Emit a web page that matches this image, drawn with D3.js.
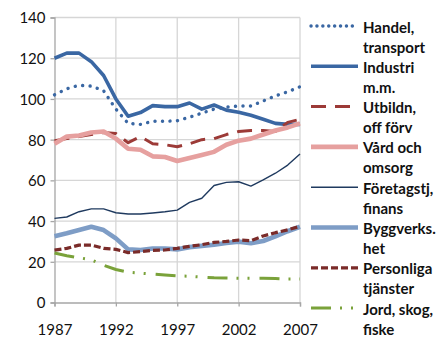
<!DOCTYPE html>
<html>
<head>
<meta charset="utf-8">
<script src="https://cdn.jsdelivr.net/npm/d3@7"></script>
<style>
  html, body { margin: 0; padding: 0; background: #fff; }
  svg { display: block; font-family: Lato, "Open Sans", sans-serif; }
</style>
</head>
<body>
<svg id="chart" width="438" height="337"></svg>
<script>
// Years on the x axis
const years = d3.range(1987, 2008);
const xTicks = [1987, 1992, 1997, 2002, 2007];
const yTicks = [0, 20, 40, 60, 80, 100, 120, 140];

// Index series per sector
const handel = [102, 105, 106.7, 106.3, 104, 95, 88, 87.5, 89, 89, 89.3, 91, 93, 95, 96, 96.5, 96.5, 99, 101.5, 103.5, 106];
const industri = [120, 122.5, 122.5, 118.3, 111.5, 100, 91.5, 93.3, 96.7, 96.2, 96.2, 98, 95, 97, 94.5, 93.5, 92, 90, 88, 87.5, 87.5];
const utbildn = [79.5, 80.5, 81.5, 82.5, 83.5, 83, 78.5, 81.5, 78, 77.5, 76.5, 78, 80, 80.5, 82.5, 84, 84.5, 84.5, 84, 88.5, 90];
const vard = [78, 81.5, 82, 83.5, 84, 80.5, 75.5, 75, 71.8, 71.5, 69.5, 71, 72.5, 74, 77.5, 79.5, 80.5, 82.5, 84.5, 86, 88];
const foretag = [41.3, 42, 44.6, 46, 46, 44.1, 43.5, 43.5, 44, 44.6, 45.4, 49.2, 51.2, 57.5, 59, 59.3, 57.2, 60.2, 63.5, 67.5, 73];
const bygg = [32.6, 34, 35.6, 37.2, 35.6, 31.5, 26.1, 25.8, 26.5, 26.5, 26.1, 27.2, 27.8, 28.4, 29.2, 29.9, 29.1, 30.2, 32.5, 35, 37.2];
const personliga = [25.7, 26.6, 28.2, 28.2, 26.6, 26.1, 24.5, 25, 25.6, 25.8, 26.6, 27.6, 28.4, 29.5, 30, 30.7, 30.4, 32.7, 34.3, 35.7, 37.4];
const jord = [24.3, 23, 22, 21, 18.3, 16.2, 14.9, 14.4, 14, 13.5, 13.1, 12.9, 12.5, 12.1, 12, 11.9, 11.9, 11.9, 11.8, 11.5, 11.5];

// Legend labels (two lines each)
const labels = [
  ["Handel,", "transport"],
  ["Industri", "m.m."],
  ["Utbildn,", "off förv"],
  ["Vård och", "omsorg"],
  ["Företagstj,", "finans"],
  ["Byggverks.", "het"],
  ["Personliga", "tjänster"],
  ["Jord, skog,", "fiske"]
];

const seriesValues = [handel, industri, utbildn, vard, foretag, bygg, personliga, jord];

// Line styles per series
const styles = [
  { color: "#3A67A3", width: 3.4, dash: "0.1 7.4", cap: "round" },
  { color: "#3A67A3", width: 3.6, dash: null, cap: "butt" },
  { color: "#9C3A37", width: 3.0, dash: "15 9", cap: "butt" },
  { color: "#E6A09F", width: 4.6, dash: null, cap: "butt" },
  { color: "#1F3A5F", width: 1.4, dash: null, cap: "butt" },
  { color: "#7E9DC6", width: 4.6, dash: null, cap: "butt" },
  { color: "#7A2B29", width: 3.2, dash: "7 3", cap: "butt" },
  { color: "#7AA23A", width: 3.0, dash: "20 9 2 9 2 10", cap: "butt" }
];

const svg = d3.select("#chart");

const x = d3.scaleLinear().domain([1987, 2007]).range([54.5, 300]);
const y = d3.scaleLinear().domain([0, 140]).range([302.5, 17.5]);

// Gridlines
const grid = svg.append("g");
grid.selectAll("line.h").data(yTicks.filter(d => d > 0)).join("line")
  .attr("x1", x(1987)).attr("x2", x(2007))
  .attr("y1", d => y(d)).attr("y2", d => y(d))
  .attr("stroke", "#D6D6D6").attr("stroke-width", 1.3);
grid.selectAll("line.v").data(xTicks.filter(d => d > 1987)).join("line")
  .attr("x1", d => x(d)).attr("x2", d => x(d))
  .attr("y1", y(0)).attr("y2", y(140))
  .attr("stroke", "#D6D6D6").attr("stroke-width", 1.3);

// Axes
const yAxis = d3.axisLeft(y).tickValues(yTicks).tickSize(4).tickPadding(5);
const xAxis = d3.axisBottom(x).tickValues(xTicks).tickFormat(d3.format("d")).tickSize(4).tickPadding(19);

const gy = svg.append("g").attr("transform", `translate(${x(1987)},0)`).call(yAxis);
const gx = svg.append("g").attr("transform", `translate(0,${y(0)})`).call(xAxis);
[gy, gx].forEach(g => {
  g.select(".domain").attr("stroke", "#A6A6A6").attr("stroke-width", 1.3);
  g.selectAll(".tick line").attr("stroke", "#A6A6A6").attr("stroke-width", 1.3);
  g.selectAll("text").attr("fill", "#111").style("font-size", "15px").style("font-family", "Lato, sans-serif");
});
gy.selectAll("text").attr("dy", "0.36em");
gx.selectAll("text").attr("dy", "0.6em");

// Series lines
const line = d3.line().x((d, i) => x(years[i])).y(d => y(d));
seriesValues.forEach((vals, i) => {
  const s = styles[i];
  svg.append("path")
    .datum(vals)
    .attr("d", line)
    .attr("fill", "none")
    .attr("stroke", s.color)
    .attr("stroke-width", s.width)
    .attr("stroke-linejoin", "round")
    .attr("stroke-linecap", s.cap)
    .attr("stroke-dasharray", s.dash);
});

// Legend
const legend = svg.append("g");
labels.forEach((lab, i) => {
  const s = styles[i];
  const base = 32.5 + i * 40.3;
  legend.append("line")
    .attr("x1", 311).attr("x2", 358)
    .attr("y1", base - 6.5).attr("y2", base - 6.5)
    .attr("stroke", s.color)
    .attr("stroke-width", s.width)
    .attr("stroke-linecap", s.cap)
    .attr("stroke-dasharray", s.dash === "0.1 7.4" ? "0.1 5.8" : s.dash);
  lab.forEach((t, j) => {
    legend.append("text")
      .attr("x", 363).attr("y", base + j * 20)
      .attr("fill", "#111")
      .style("font-size", "15px").style("font-weight", "bold")
      .text(t);
  });
});
</script>
</body>
</html>
